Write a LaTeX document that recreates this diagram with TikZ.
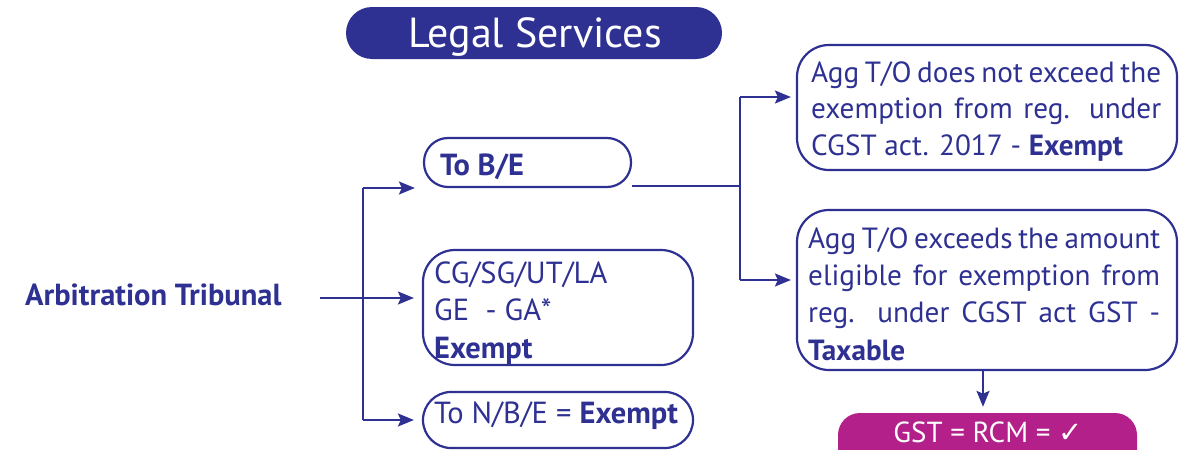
\documentclass[tikz,border=0pt]{standalone}
\usepackage{fontspec}
\setmainfont{PT Sans}
\newfontfamily\symfont{DejaVu Sans}
\usetikzlibrary{arrows.meta}
\definecolor{navy}{HTML}{2E3192}
\definecolor{mag}{HTML}{B3208A}
\begin{document}
\begin{tikzpicture}[x=1pt,y=-1pt,
  box/.style={draw=navy,line width=2.2pt,rectangle,inner sep=0pt},
  txt/.style={anchor=base west,inner sep=0pt,text=navy,font=\fontsize{30.5}{37}\selectfont},
  btxt/.style={txt,font=\fontsize{30.5}{37}\selectfont\bfseries},
  rtxt/.style={txt,font=\fontsize{29.2}{37}\selectfont},
  conn/.style={draw=navy,line width=2pt},
  arr/.style={conn,-{Stealth[length=16pt,width=13pt,inset=3pt]}},
  pill/.style={rectangle,rounded corners=26pt,inner sep=0pt}]
\useasboundingbox (0,0) rectangle (1187,450);
\clip (0,0) rectangle (1187,450);
% title
\node[pill,fill=navy,minimum width=376pt,minimum height=52pt] (title) at (534,33) {};
\node[anchor=base,inner sep=0pt,text=white,font=\fontsize{42}{42}\selectfont] (titletxt) at (535,47) {Legal Services};
% left
\node[btxt] (at) at (25,305) {Arbitration Tribunal};
% middle boxes
\node[box,rounded corners=24pt,minimum width=207pt,minimum height=49pt] (b1) at (527.5,162.5) {};
\node[btxt] (b1t) at (440,175) {To B/E};
\node[box,rounded corners=32pt,minimum width=270pt,minimum height=115pt] (b2) at (558,307.5) {};
\node[txt] (b2t1) at (434,283) {CG/SG/UT/LA};
\node[txt] (b2t2) at (434,320) {GE\ \ - GA*};
\node[btxt] (b2t3) at (434,358) {Exempt};
\node[box,rounded corners=28pt,minimum width=270pt,minimum height=56pt] (b3) at (558,420) {};
\node[txt] (b3t) at (434,423) {To N/B/E = \textbf{Exempt}};
% right boxes
\node[box,rounded corners=32pt,minimum width=380pt,minimum height=125pt] (r1) at (987,107.5) {};
\node[rtxt] (r1t1) at (811,82) {\makebox[350pt][s]{Agg T/O does not exceed the}};
\node[rtxt] (r1t2) at (811,118.5) {\makebox[350pt][s]{exemption from reg. under}};
\node[rtxt] (r1t3) at (811,155) {CGST act. 2017 - \textbf{Exempt}};
\node[box,rounded corners=32pt,minimum width=380pt,minimum height=160pt] (r2) at (987,290) {};
\node[rtxt] (r2t1) at (808,248) {\makebox[352pt][s]{Agg T/O exceeds the amount}};
\node[rtxt] (r2t2) at (808,285.3) {\makebox[352pt][s]{eligible for exemption from}};
\node[rtxt] (r2t3) at (808,322.6) {\makebox[352pt][s]{reg. under CGST act GST -}};
\node[rtxt,font=\fontsize{29.2}{37}\selectfont\bfseries] (r2t4) at (808,360) {Taxable};
% bottom pill
\node[pill,fill=mag,minimum width=299pt,minimum height=60pt,rounded corners=22pt] (gst) at (987.5,443) {};
\node[anchor=base,inner sep=0pt,text=white,font=\fontsize{29}{37}\selectfont] (gstt) at (988,442) {GST = RCM = {\symfont ✓}};
% connectors
\coordinate (s0) at (320,298);
\coordinate (j1) at (363,188);
\coordinate (j2) at (363,298);
\coordinate (j3) at (363,420);
\draw[conn] (s0) -- (j2);
\draw[conn] (j1) -- (j3);
\draw[arr,shorten >=8pt] (j1) -- (b1.west |- j1);
\draw[arr,shorten >=8pt] (j2) -- (b2.west |- j2);
\draw[arr,shorten >=8pt] (j3) -- (b3.west |- j3);
\coordinate (k0) at (740,186);
\coordinate (k1) at (740,97);
\coordinate (k2) at (740,280);
\draw[conn] (b1.east |- k0) -- (k0);
\draw[conn] (k1) -- (k2);
\draw[arr,shorten >=5pt] (k1) -- (r1.west |- k1);
\draw[arr,shorten >=5pt] (k2) -- (r2.west |- k2);
\draw[arr,shorten >=6pt] (r2.south -| 983,0) -- (gst.north -| 983,0);
\end{tikzpicture}
\end{document}
